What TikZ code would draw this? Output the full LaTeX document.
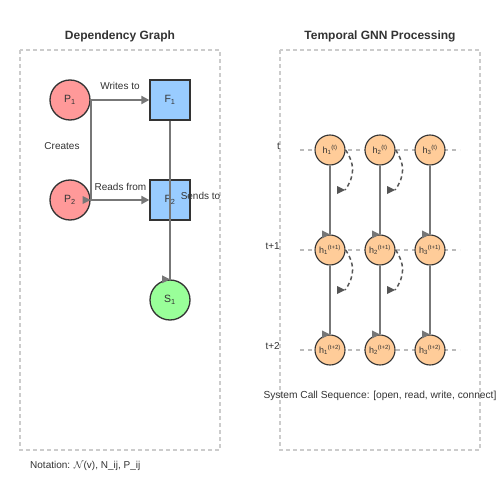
\documentclass[tikz,border=0pt]{standalone}
\usepackage{fontspec}
\setmainfont{Liberation Sans}
\usetikzlibrary{arrows.meta}
\definecolor{ink}{HTML}{333333}
\definecolor{edgec}{HTML}{777777}
\definecolor{boxc}{HTML}{CCCCCC}
\definecolor{timec}{HTML}{BBBBBB}
\definecolor{curvec}{HTML}{555555}
\definecolor{pfill}{HTML}{FF9999}
\definecolor{ffill}{HTML}{99CCFF}
\definecolor{sfill}{HTML}{99FF99}
\definecolor{hfill}{HTML}{FFCC99}
\tikzset{
  panel/.style={draw=boxc, line width=1.2pt, dash pattern=on 4pt off 3pt},
  title/.style={font=\fontsize{12}{14}\selectfont\bfseries, text=ink},
  lbl/.style={font=\fontsize{10}{12}\selectfont, text=ink, inner sep=0pt},
  proc/.style={circle, draw=ink, line width=1.3pt, fill=pfill, minimum size=40pt, inner sep=0pt, font=\fontsize{10.5}{12}\selectfont, text=ink},
  filen/.style={rectangle, draw=ink, line width=1.3pt, fill=ffill, minimum size=40pt, inner sep=0pt, font=\fontsize{10.5}{12}\selectfont, text=ink},
  sock/.style={circle, draw=ink, line width=1.3pt, fill=sfill, minimum size=40pt, inner sep=0pt, font=\fontsize{10.5}{12}\selectfont, text=ink},
  hnode/.style={circle, draw=ink, line width=1.1pt, fill=hfill, minimum size=30pt, inner sep=0pt, font=\fontsize{9}{10}\selectfont, text=ink},
  edge/.style={draw=edgec, line width=2pt},
  arr/.style={edge, -{Triangle[length=8pt,width=8pt]}},
  tipc/.style={fill=edgec},
  tline/.style={draw=timec, line width=1.5pt, dash pattern=on 4pt off 4pt},
  curvy/.style={draw=curvec, line width=1.5pt, dash pattern=on 4pt off 3pt},
  ctip/.style={fill=curvec},
}
\newcommand\rtip[2]{\fill[#1] (#2) -- ++(-8,-4) -- ++(0,8) -- cycle;}
\begin{document}
\begin{tikzpicture}[x=1pt,y=-1pt]
\useasboundingbox (0,0) rectangle (500,500);
\fill[white] (0,0) rectangle (500,500);

% titles and panels
\node[title] (t1) at (120,36) {Dependency Graph};
\node[title] (t2) at (380,36) {Temporal GNN Processing};
\draw[panel] (20,50) rectangle (220,450);
\draw[panel] (280,50) rectangle (480,450);

% dependency graph nodes
\node[proc] (P1) at (70,100) {P\textsubscript{1}};
\node[proc] (P2) at (70,200) {P\textsubscript{2}};
\node[filen] (F1) at (170,100) {F\textsubscript{1}};
\node[filen] (F2) at (170,200) {F\textsubscript{2}};
\node[sock] (S1) at (170,300) {S\textsubscript{1}};

% dependency graph edges
\draw[arr] (P1.east) -- (F1.west);
\draw[edge] (P1.east) -- (P2.east);
\rtip{tipc}{P2.east}
\draw[arr] (P2.east) -- (F2.west);
\draw[edge] (F1.south) -- (S1.north);
\rtip{tipc}{S1.north}

\node[lbl] (lw) at (120,86) {Writes to};
\node[lbl] (lc) at (62,146) {Creates};
\node[lbl] (lr) at (120.5,187) {Reads from};
\node[lbl] (ls) at (200.5,196) {Sends to};

% temporal GNN
\foreach \r/\y in {1/150,2/250,3/350}{
  \coordinate (tl\r) at (300,\y);
  \coordinate (tr\r) at (460,\y);
  \draw[tline] (tl\r) -- (tr\r);
}
\node[lbl, anchor=east] (tt0) at (280,146) {t};
\node[lbl, anchor=east] (tt1) at (280,246) {t+1};
\node[lbl, anchor=east] (tt2) at (280,346) {t+2};

\foreach \c/\x in {1/330,2/380,3/430}{
  \node[hnode] (h\c1) at (\x,150) {h\textsubscript{\c}\textsuperscript{(t)}};
  \node[hnode] (h\c2) at (\x,250) {h\textsubscript{\c}\textsuperscript{(t+1)}};
  \node[hnode] (h\c3) at (\x,350) {h\textsubscript{\c}\textsuperscript{(t+2)}};
}
\foreach \c in {1,2,3}{
  \draw[edge] (h\c1.south) -- (h\c2.north);
  \rtip{tipc}{h\c2.north}
  \draw[edge] (h\c2.south) -- (h\c3.north);
  \rtip{tipc}{h\c3.north}
}
\foreach \c/\x in {1/330,2/380}{
  \foreach \r/\y in {1/150,2/250}{
    \coordinate (e\c\r) at (\x+15,\y+40);
    \draw[curvy] (h\c\r.east) .. controls (\x+25,\y+13.33) and (\x+25,\y+26.67) .. (e\c\r);
    \rtip{ctip}{e\c\r}
  }
}

\node[lbl, font=\fontsize{10.2}{12}\selectfont] (sys) at (380,396) {System Call Sequence: [open, read, write, connect]};
\node[lbl, anchor=west] (nota) at (30,466) {Notation: $\mathcal{N}$(v), N\_ij, P\_ij};
\end{tikzpicture}
\end{document}
